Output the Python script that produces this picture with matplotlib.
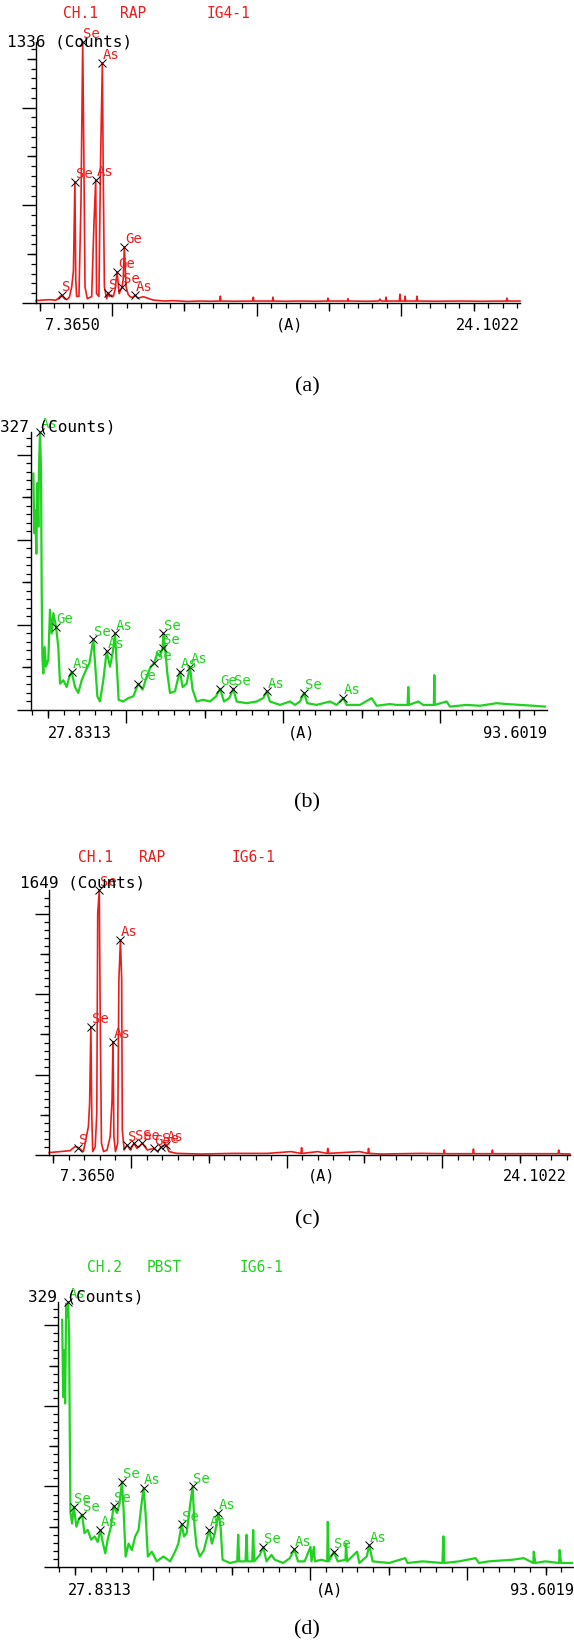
import matplotlib
matplotlib.use("Agg")
import matplotlib.pyplot as plt
from matplotlib.ticker import MultipleLocator, FixedLocator

W, H = 574, 1644
RED = '#ec1c1c'
GREEN = '#1fd21f'
MONO = 'DejaVu Sans Mono'

# ---- (a) CH.1 RAP IG4-1 ----
wl_a = [7.37, 7.60, 7.85, 8.05, 8.14, 8.25, 8.35, 8.43, 8.52, 8.60,
        8.66, 8.71, 8.74, 8.77, 8.85, 8.92, 8.98, 9.02, 9.06, 9.14,
        9.22, 9.29, 9.37, 9.43, 9.46, 9.54, 9.60, 9.66, 9.69, 9.73,
        9.81, 9.86, 9.90, 9.97, 10.04, 10.10, 10.17, 10.24, 10.34, 10.38,
        10.42, 10.48, 10.55, 10.62, 10.70, 10.79, 10.88, 11.08, 11.42, 11.80,
        12.10, 12.60, 13.03, 13.40, 13.72, 13.74, 13.76, 14.20, 14.86, 14.88,
        14.90, 15.54, 15.56, 15.58, 16.00, 16.49, 17.00, 17.44, 17.46, 17.48,
        18.13, 18.15, 18.17, 18.80, 19.22, 19.26, 19.30, 19.45, 19.47, 19.49,
        19.93, 19.95, 19.97, 20.11, 20.13, 20.15, 20.52, 20.54, 20.56, 21.20,
        22.00, 22.80, 23.63, 23.65, 23.67, 24.10]
cnt_a = [12, 15, 17, 14, 25, 40, 22, 17, 30, 82,
         167, 619, 120, 34, 34, 512, 1336, 750, 82, 22,
         28, 32, 410, 630, 48, 34, 750, 1228, 666, 82,
         22, 51, 34, 40, 34, 70, 159, 48, 82, 120,
         287, 82, 45, 32, 28, 40, 25, 32, 15, 10,
         12, 8, 10, 9, 10, 35, 10, 9, 10, 30,
         10, 10, 30, 10, 9, 10, 9, 10, 25, 10,
         10, 22, 10, 9, 10, 20, 10, 10, 30, 10,
         10, 45, 10, 10, 35, 10, 10, 35, 10, 9,
         10, 9, 10, 25, 10, 10]
pk_wl_a = [8.25, 8.71, 8.98, 9.43, 9.66, 9.86, 10.17, 10.34, 10.42, 10.79]
pk_cnt_a = [40, 619, 1336, 630, 1228, 51, 159, 82, 287, 40]
pk_lbl_a = ['S', 'Se', 'Se', 'As', 'As', 'S', 'Ge', 'Se', 'Ge', 'As']

# ---- (b) CH.2 PBST IG4-1 ----
wl_b = [28.13, 28.26, 28.38, 28.51, 28.64, 28.77, 28.85, 28.98, 29.11, 29.19,
        29.28, 29.40, 29.57, 29.74, 30.04, 30.25, 30.47, 30.68, 31.02, 31.31,
        31.53, 31.95, 32.38, 32.72, 33.01, 33.44, 33.86, 34.29, 34.84, 35.27,
        35.78, 36.03, 36.29, 36.62, 37.05, 37.47, 37.90, 38.24, 38.54, 38.75,
        39.00, 39.60, 40.23, 40.87, 41.51, 42.06, 42.57, 43.08, 43.51, 43.93,
        44.27, 44.61, 44.70, 44.91, 45.21, 45.55, 46.18, 46.52, 46.82, 47.16,
        47.67, 48.09, 48.43, 48.94, 49.79, 50.64, 51.41, 51.92, 52.43, 53.11,
        53.62, 54.04, 55.32, 56.59, 57.44, 57.87, 58.29, 59.57, 60.84, 61.48,
        62.12, 62.63, 63.05, 64.24, 65.94, 66.79, 67.64, 68.06, 69.76, 71.25,
        71.89, 73.59, 74.43, 75.83, 75.92, 76.02, 77.20, 77.83, 79.18, 79.24,
        79.30, 80.81, 81.23, 83.36, 85.06, 87.18, 88.46, 90.15, 91.85, 93.34]
cnt_b = [278, 208, 235, 184, 267, 216, 286, 327, 282, 145,
         63, 43, 74, 51, 59, 118, 90, 114, 98, 74,
         31, 35, 27, 39, 45, 27, 20, 35, 47, 55,
         83, 51, 16, 10, 35, 69, 51, 67, 90, 55,
         12, 10, 14, 16, 31, 24, 39, 51, 55, 67,
         63, 73, 90, 74, 43, 20, 22, 35, 45, 27,
         31, 51, 24, 10, 12, 10, 16, 25, 10, 14,
         25, 10, 8, 10, 14, 22, 10, 6, 10, 6,
         10, 20, 8, 6, 10, 6, 14, 6, 6, 14,
         5, 7, 6, 6, 27, 6, 10, 6, 6, 41,
         6, 10, 4, 6, 5, 8, 7, 6, 5, 4]
pk_wl_b = [28.98, 31.02, 33.01, 35.78, 37.47, 38.54, 41.51, 43.51, 44.61,
           44.70, 46.82, 48.09, 51.92, 53.62, 57.87, 62.63, 67.64]
pk_cnt_b = [327, 98, 45, 83, 69, 90, 31, 55, 73, 90, 45, 51, 25, 25, 22, 20, 14]
pk_lbl_b = ['As', 'Ge', 'As', 'Se', 'As', 'As', 'Ge', 'Se', 'Se',
            'Se', 'As', 'As', 'Ge', 'Se', 'As', 'Se', 'As']

# ---- (c) CH.1 RAP IG6-1 ----
wl_c = [7.37, 7.72, 8.04, 8.20, 8.31, 8.47, 8.63, 8.67, 8.71, 8.74,
        8.77, 8.85, 8.90, 8.93, 8.98, 9.01, 9.05, 9.12, 9.23, 9.33,
        9.39, 9.42, 9.45, 9.50, 9.57, 9.61, 9.66, 9.70, 9.72, 9.78,
        9.87, 9.98, 10.09, 10.19, 10.36, 10.52, 10.73, 10.86, 10.97, 11.13,
        11.22, 11.48, 12.24, 13.31, 14.39, 15.14, 15.46, 15.48, 15.50, 16.00,
        16.30, 16.32, 16.34, 17.34, 17.61, 17.63, 17.65, 18.04, 19.33, 20.04,
        20.06, 20.08, 20.98, 21.00, 21.02, 21.59, 21.61, 21.63, 22.50, 23.72,
        23.74, 23.76, 24.10]
cnt_c = [15, 21, 27, 52, 46, 21, 176, 321, 798, 239,
         21, 52, 259, 1504, 1649, 861, 73, 21, 31, 114,
         342, 705, 114, 21, 73, 1089, 1338, 1089, 156, 31,
         62, 31, 73, 41, 73, 31, 41, 21, 52, 62,
         21, 10, 6, 10, 10, 21, 10, 46, 10, 21,
         10, 41, 10, 21, 10, 41, 10, 6, 10, 8,
         31, 8, 8, 37, 8, 8, 31, 8, 8, 8,
         31, 8, 6]
pk_wl_c = [8.31, 8.71, 8.98, 9.42, 9.66, 9.87, 10.09, 10.36, 10.73, 10.97, 11.13]
pk_cnt_c = [46, 798, 1649, 705, 1338, 62, 73, 73, 41, 52, 62]
pk_lbl_c = ['S', 'Se', 'Se', 'As', 'As', 'S', 'Se', 'Se', 'Ge', 'Se', 'As']

# ---- (d) CH.2 PBST IG6-1 ----
wl_d = [28.36, 28.49, 28.61, 28.74, 28.87, 28.99, 29.12, 29.25, 29.33, 29.42,
        29.63, 29.84, 30.18, 30.52, 30.90, 31.20, 31.62, 32.05, 32.51, 32.89,
        33.23, 33.57, 33.86, 34.16, 34.58, 34.92, 35.34, 35.68, 35.98, 36.19,
        36.45, 36.83, 37.25, 37.67, 38.10, 38.39, 38.73, 38.99, 39.28, 39.79,
        40.42, 41.27, 42.12, 42.75, 43.17, 43.60, 43.89, 44.23, 44.65, 44.99,
        45.24, 45.50, 45.92, 46.43, 46.77, 47.11, 47.45, 47.83, 48.26, 48.55,
        48.81, 49.74, 50.67, 50.80, 50.93, 51.73, 51.86, 51.99, 52.58, 52.71,
        52.84, 53.56, 53.99, 54.41, 55.04, 55.47, 56.53, 57.38, 57.95, 58.43,
        59.26, 60.02, 60.15, 60.45, 60.57, 61.38, 62.14, 62.22, 62.35, 62.98,
        63.49, 64.47, 64.55, 64.68, 65.95, 66.24, 67.18, 67.51, 67.94, 70.05,
        72.09, 72.38, 74.29, 76.83, 76.95, 77.08, 78.94, 81.06, 81.48, 82.75,
        85.72, 87.20, 88.42, 88.47, 88.68, 89.95, 91.70, 91.77, 91.94, 93.33]
cnt_d = [307, 211, 269, 203, 327, 311, 329, 286, 170, 67,
         54, 75, 50, 60, 65, 42, 46, 34, 38, 31,
         46, 29, 17, 34, 50, 76, 67, 79, 106, 71,
         13, 29, 21, 38, 46, 71, 98, 67, 13, 19,
         7, 13, 7, 19, 29, 53, 38, 42, 75, 100,
         50, 25, 13, 21, 34, 46, 29, 42, 67, 50,
         9, 5, 7, 40, 7, 7, 40, 7, 7, 46,
         7, 15, 25, 7, 15, 9, 5, 11, 22, 7,
         7, 25, 7, 25, 7, 9, 7, 56, 7, 19,
         7, 9, 29, 7, 19, 5, 13, 27, 7, 5,
         11, 5, 7, 5, 38, 5, 7, 11, 5, 7,
         9, 11, 5, 19, 5, 7, 5, 21, 5, 5]
pk_wl_d = [29.12, 29.84, 30.90, 33.23, 34.92, 35.98, 38.73, 43.60,
           44.99, 47.11, 48.26, 53.99, 57.95, 62.98, 67.51]
pk_cnt_d = [329, 75, 65, 46, 76, 106, 98, 53, 100, 46, 67, 25, 22, 19, 27]
pk_lbl_d = ['As', 'Se', 'Se', 'As', 'Se', 'Se', 'As', 'Se',
            'Se', 'As', 'As', 'Se', 'As', 'Se', 'As']

fig = plt.figure(figsize=(W / 100, H / 100), dpi=100)


def ftext(x, y, s, **kw):
    kw.setdefault('family', MONO)
    kw.setdefault('fontsize', 11)
    kw.setdefault('va', 'center')
    fig.text(x / W, 1 - y / H, s, **kw)


def panel(box, wl, cnt, pk_wl, pk_cnt, pk_lbl, color, lw, xlim, ymax,
          xmaj, xmid, xminor, ymaj, ymid, yminor):
    x0, x1, top, base = box
    ax = fig.add_axes([x0 / W, 1 - base / H, (x1 - x0) / W, (base - top) / H])
    ax.plot(wl, cnt, color=color, lw=lw, clip_on=False)
    ax.plot(pk_wl, pk_cnt, 'x', color='black', ms=6, mew=0.7, clip_on=False)
    for x, y, s in zip(pk_wl, pk_cnt, pk_lbl):
        ax.annotate(s, (x, y), xytext=(0.5, 0.5), textcoords='offset points',
                    ha='left', va='bottom', color=color, family=MONO,
                    fontsize=10, annotation_clip=False)
    ax.set_xlim(*xlim)
    ax.set_ylim(0, ymax)
    ax.spines[['top', 'right']].set_visible(False)
    ax.spines[['left', 'bottom']].set_linewidth(1.0)
    ax.xaxis.set_major_locator(MultipleLocator(xmaj))
    ax.xaxis.set_minor_locator(MultipleLocator(xminor))
    ax.yaxis.set_major_locator(MultipleLocator(ymaj))
    ax.yaxis.set_minor_locator(MultipleLocator(yminor))
    ax.tick_params(which='major', axis='x', length=9.5, width=1.0)
    ax.tick_params(which='major', axis='y', length=10, width=1.0)
    ax.tick_params(which='minor', length=3.5, width=0.9)
    ax.tick_params(labelbottom=False, labelleft=False)
    sx = ax.secondary_xaxis('bottom')
    sx.xaxis.set_major_locator(FixedLocator(xmid))
    sx.tick_params(length=6, width=1.0, labelbottom=False)
    sx.spines['bottom'].set_visible(False)
    sy = ax.secondary_yaxis('left')
    sy.yaxis.set_major_locator(FixedLocator(ymid))
    sy.tick_params(length=6.5, width=1.0, labelleft=False)
    sy.spines['left'].set_visible(False)
    return ax


panel((36, 520, 42, 303), wl_a, cnt_a, pk_wl_a, pk_cnt_a, pk_lbl_a, RED, 1.2,
      (7.3650, 24.1022), 1336, 5, [7.5, 12.5, 17.5, 22.5], 0.5,
      500, [250, 750, 1250], 50)
panel((31, 547, 432, 710), wl_b, cnt_b, pk_wl_b, pk_cnt_b, pk_lbl_b, GREEN, 1.6,
      (27.8313, 93.6019), 327, 20, [30, 50, 70, 90], 2,
      100, [50, 150, 250], 10)
panel((49, 570, 890, 1155), wl_c, cnt_c, pk_wl_c, pk_cnt_c, pk_lbl_c, RED, 1.2,
      (7.3650, 24.1022), 1649, 5, [7.5, 12.5, 17.5, 22.5], 0.5,
      500, [250, 750, 1250], 50)
panel((58, 574, 1302, 1567), wl_d, cnt_d, pk_wl_d, pk_cnt_d, pk_lbl_d, GREEN, 1.6,
      (27.8313, 93.6019), 329, 20, [30, 50, 70, 90], 2,
      100, [50, 150, 250], 10)

# headers
ftext(63, 14, 'CH.1', color=RED, fontsize=10.5)
ftext(120, 14, 'RAP', color=RED, fontsize=10.5)
ftext(207, 14, 'IG4-1', color=RED, fontsize=10.5)
ftext(78, 857, 'CH.1', color=RED, fontsize=10.5)
ftext(139, 857, 'RAP', color=RED, fontsize=10.5)
ftext(232, 857, 'IG6-1', color=RED, fontsize=10.5)
ftext(87, 1268, 'CH.2', color=GREEN, fontsize=10.5)
ftext(147, 1268, 'PBST', color=GREEN, fontsize=10.5)
ftext(240, 1268, 'IG6-1', color=GREEN, fontsize=10.5)

# count labels
ftext(7, 42, '1336 (Counts)', fontsize=11.5)
ftext(0, 427, '327 (Counts)', fontsize=11.5)
ftext(20, 883, '1649 (Counts)', fontsize=11.5)
ftext(28, 1297, '329 (Counts)', fontsize=11.5)

# x range labels
ftext(45, 325, '7.3650')
ftext(290, 325, '(A)', ha='center')
ftext(520, 325, '24.1022', ha='right')
ftext(48, 733, '27.8313')
ftext(302, 733, '(A)', ha='center')
ftext(547, 733, '93.6019', ha='right')
ftext(60, 1176, '7.3650')
ftext(322, 1176, '(A)', ha='center')
ftext(567, 1176, '24.1022', ha='right')
ftext(68, 1590, '27.8313')
ftext(330, 1590, '(A)', ha='center')
ftext(574, 1590, '93.6019', ha='right')

# captions
for y, s in [(387, '(a)'), (803, '(b)'), (1220, '(c)'), (1630, '(d)')]:
    ftext(307, y, s, ha='center', family='Liberation Serif', fontsize=16)

fig.savefig('out.png', dpi=100)
